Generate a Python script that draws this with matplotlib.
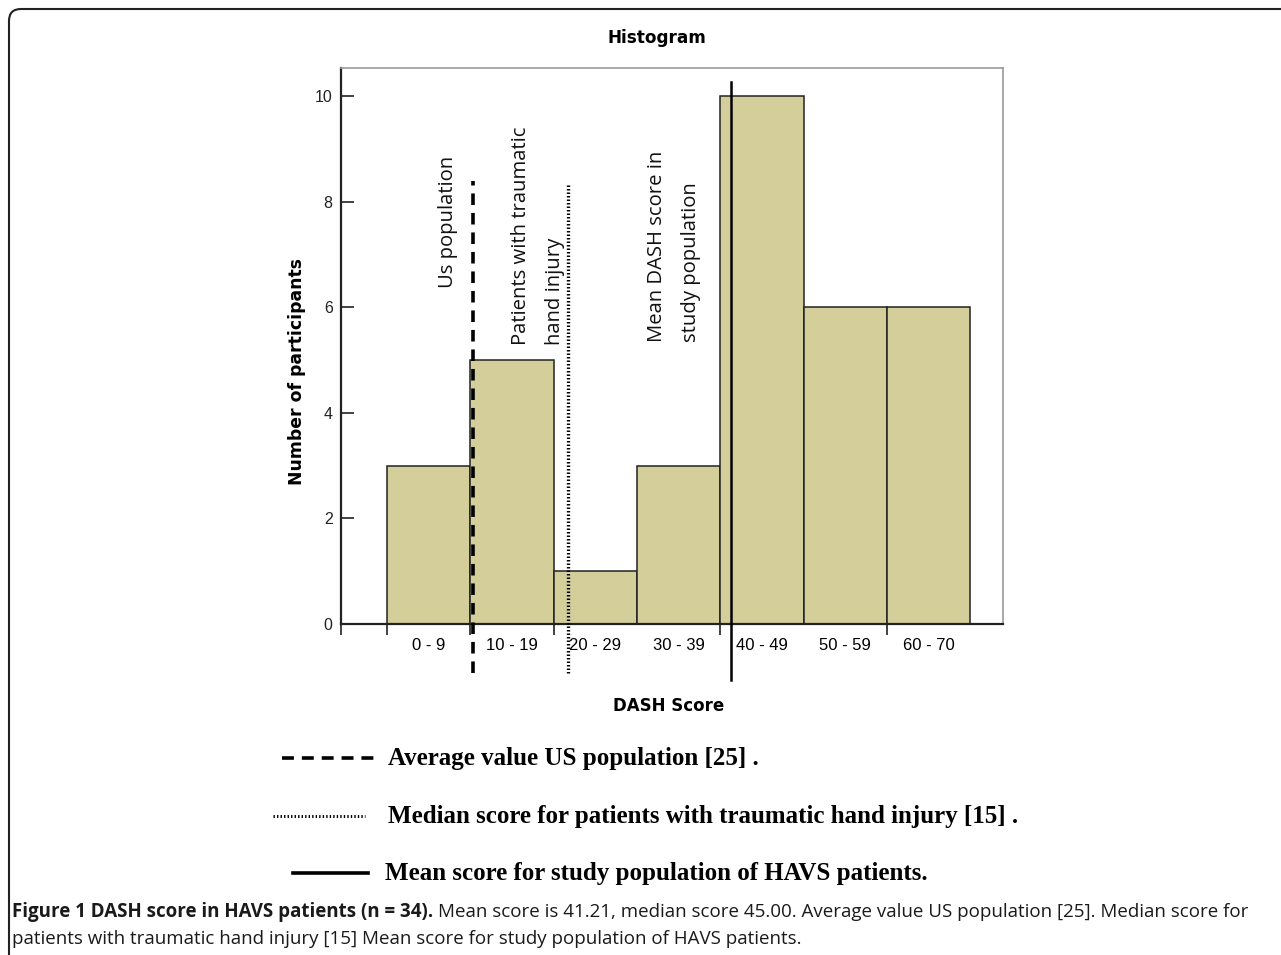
import numpy as np
import matplotlib
matplotlib.use("Agg")
import matplotlib.pyplot as plt
from matplotlib.lines import Line2D
from matplotlib.patches import FancyBboxPatch
from matplotlib.transforms import IdentityTransform

# ---------------- data ----------------
bin_labels = ["0 - 9", "10 - 19", "20 - 29", "30 - 39", "40 - 49", "50 - 59", "60 - 70"]
bin_edges = [0, 10, 20, 30, 40, 50, 60, 70]
counts = [3, 5, 1, 3, 10, 6, 6]
major_ticks = [-5.5, 0, 10, 20, 40, 60]
y_ticks = [0, 2, 4, 6, 8, 10]

us_avg = 10.3          # average value US population
injury_median = 21.7   # median for patients with traumatic hand injury
study_mean = 41.3      # mean score in study population

W, H = 1281, 955
BAR_COLOR = "#d4ce9a"
AX_L, AX_R, AX_T, AX_B = 341, 1003, 68, 624

def fx(x):
    return x / W

def fy(y):
    return 1 - y / H

fig = plt.figure(figsize=(W / 100, H / 100), dpi=100)
ax = fig.add_axes([fx(AX_L), fy(AX_B), fx(AX_R) - fx(AX_L), fy(AX_T) - fy(AX_B)])

widths = np.diff(bin_edges)
ax.bar(bin_edges[:-1], counts, width=widths, align="edge", color=BAR_COLOR,
       edgecolor="#222222", linewidth=1.1, zorder=2)

ax.set_xlim(-5.5, 73.9)
ax.set_ylim(0, 10.53)

# spines
for s in ["top", "right"]:
    ax.spines[s].set_color("#9a9a9a")
    ax.spines[s].set_linewidth(1.2)
for s in ["left", "bottom"]:
    ax.spines[s].set_color("#222222")
    ax.spines[s].set_linewidth(1.6)

ax.set_yticks(y_ticks)
ax.tick_params(axis="y", direction="in", length=9, width=1.2, pad=6,
               labelsize=11.5, colors="#222222")
for lab in ax.get_yticklabels():
    lab.set_fontfamily("Liberation Sans")

ax.set_xticks(major_ticks)
ax.set_xticklabels([])
centers = [(a + b) / 2 for a, b in zip(bin_edges[:-1], bin_edges[1:])]
ax.set_xticks(centers, minor=True)
ax.set_xticklabels(bin_labels, minor=True, fontfamily="Liberation Sans", fontsize=12)
ax.tick_params(axis="x", which="major", direction="out", length=8, width=1.2, colors="#222222")
ax.tick_params(axis="x", which="minor", length=0, pad=10)

ax.set_ylabel("Number of participants", fontsize=12.4, fontweight="bold",
              fontfamily="DejaVu Sans")
ax.yaxis.set_label_coords(-(AX_L - 297) / (AX_R - AX_L), (AX_B - 371) / (AX_B - AX_T))
ax.set_xlabel("DASH Score", fontsize=12, fontweight="bold", fontfamily="DejaVu Sans")
ax.xaxis.set_label_coords((669 - AX_L) / (AX_R - AX_L), -(706 - AX_B) / (AX_B - AX_T))
ax.xaxis.label.set_va("center")
ax.yaxis.label.set_va("center")
ax.set_title("Histogram", fontsize=12.2, fontweight="bold", fontfamily="DejaVu Sans",
             x=(657 - AX_L) / (AX_R - AX_L), pad=18)

# reference lines
ax.plot([us_avg, us_avg], [-0.93, 8.39], color="black", lw=2.6, ls=(0, (3.2, 2.2)),
        clip_on=False, zorder=3)
ax.plot([injury_median, injury_median], [-0.93, 8.35], color="black", lw=2.4, ls=(0, (0.45, 0.6)),
        clip_on=False, zorder=3)
ax.plot([study_mean, study_mean], [-1.06, 10.27], color="black", lw=1.8,
        clip_on=False, zorder=3)

# rotated notes
note_kw = dict(rotation=90, ha="center", va="bottom", multialignment="left",
               fontfamily="Open Sans", fontsize=14.6, linespacing=1.9, color="#111111")
ax.text(7.3, 6.36, "Us population", **note_kw)
ax.text(18.1, 5.28, "Patients with traumatic\nhand injury", **note_kw)
ax.text(34.45, 5.34, "Mean DASH score in\nstudy population", **note_kw)

# manual legend below the chart
fig.add_artist(Line2D([fx(282), fx(377)], [fy(758), fy(758)], color="black", lw=2.6,
                      ls=(0, (3.3, 2.2))))
fig.add_artist(Line2D([fx(273), fx(365)], [fy(816), fy(816)], color="black", lw=2.2,
                      ls=(0, (0.45, 0.7))))
fig.add_artist(Line2D([fx(293), fx(368)], [fy(873), fy(873)], color="black", lw=2.6))
leg_kw = dict(fontfamily="Liberation Serif", fontweight="bold", fontsize=18,
              ha="left", va="center", color="black")
fig.text(fx(388), fy(758), "Average value US population [25] .", **leg_kw)
fig.text(fx(388), fy(816), "Median score for patients with traumatic hand injury [15] .", **leg_kw)
fig.text(fx(385), fy(873), "Mean score for study population of HAVS patients.", **leg_kw)

# caption
cap_kw = dict(fontfamily="Open Sans", fontsize=13.5, ha="left", va="center", color="#1a1a1a")
t1 = fig.text(fx(12), fy(912), "Figure 1 DASH score in HAVS patients (n = 34).",
              fontweight="bold", **cap_kw)
fig.canvas.draw()
bb = t1.get_window_extent()
fig.text((bb.x1 + 5) / W, fy(912),
         "Mean score is 41.21, median score 45.00. Average value US population [25]. Median score for",
         **cap_kw)
fig.text(fx(12), fy(939),
         "patients with traumatic hand injury [15] Mean score for study population of HAVS patients.",
         **cap_kw)

# rounded frame, only top and left edges visible
frame = FancyBboxPatch((9, -60), 1400, H - 9 + 60, boxstyle="round,pad=0,rounding_size=12",
                       transform=IdentityTransform(), fill=False, edgecolor="#222222", lw=1.5)
fig.add_artist(frame)

fig.savefig("out.png", dpi=100)
